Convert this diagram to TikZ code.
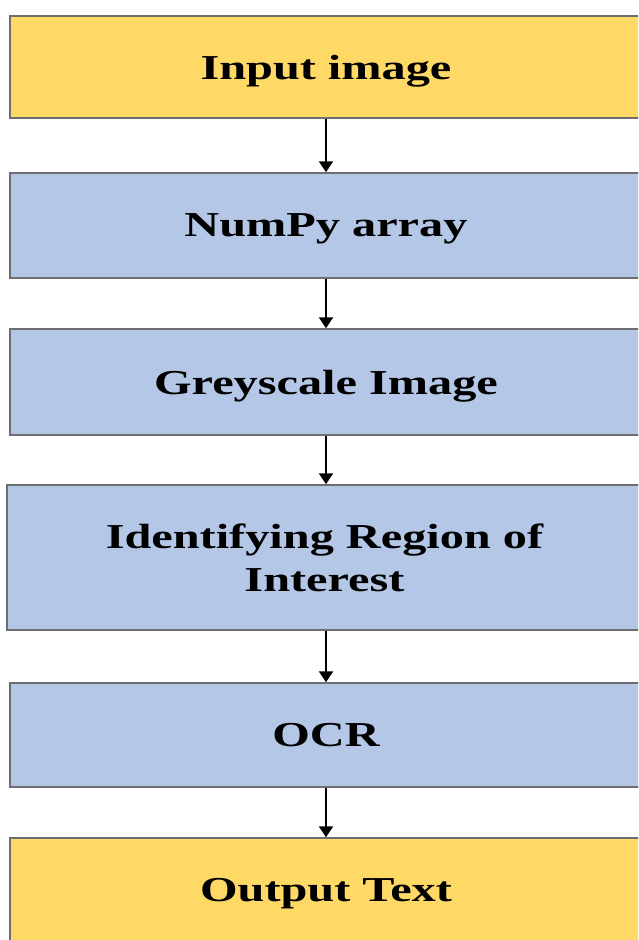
\documentclass[tikz,border=0pt]{standalone}
\usepackage{fontspec}
\newfontfamily\boxfont[FakeStretch=1.38]{Liberation Serif}
\usetikzlibrary{arrows.meta}
\definecolor{stageyellow}{HTML}{FFD966}
\definecolor{stageblue}{HTML}{B4C7E7}
\definecolor{edgegray}{HTML}{6E6E6E}
\tikzset{
    stage/.style = {draw = edgegray, line width = 1.5pt, minimum width = 632pt, inner sep = 0pt,
        text depth = 0pt, align = center, font = \boxfont\bfseries\fontsize{35}{43}\selectfont},
    ends/.style = {stage, fill = stageyellow},
    inner/.style = {stage, fill = stageblue},
    flow/.style = {line width = 2.4pt, -{Triangle[width=14pt,length=11pt]}}
}
\begin{document}
\begin{tikzpicture}[x=1pt,y=-1pt]
        \clip (0,0) rectangle (638,940);
        \fill[white] (0,0) rectangle (638,940);
        \node[ends, minimum height = 102pt] (input) at (326,67) {Input image};
        \node[inner, minimum height = 105pt] (numpy) at (326,225.5) {NumPy array};
        \node[inner, minimum height = 106pt] (grey) at (326,382) {Greyscale Image};
        \node[inner, minimum height = 145pt, minimum width = 635pt] (roi) at (324.5,557.5) {Identifying Region of\\Interest};
        \node[inner, minimum height = 104pt] (ocr) at (326,735) {OCR};
        \node[ends, minimum height = 104pt] (output) at (326,890) {Output Text};
        \draw[flow] (input.south) -- (input.south |- numpy.north);
        \draw[flow] (numpy.south) -- (numpy.south |- grey.north);
        \draw[flow] (grey.south) -- (grey.south |- roi.north);
        \draw[flow] (grey.south |- roi.south) -- (ocr.north);
        \draw[flow] (ocr.south) -- (output.north);
    \end{tikzpicture}
\end{document}
